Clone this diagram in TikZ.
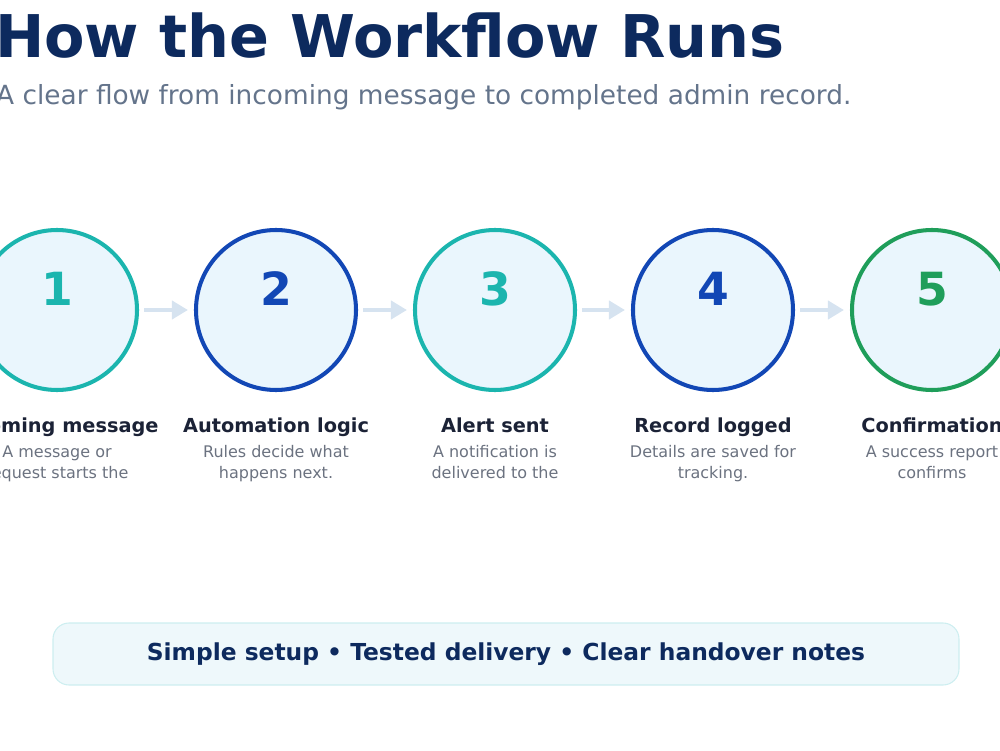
\documentclass[tikz,border=0pt]{standalone}
\usepackage{fontspec}
\setmainfont{DejaVu Sans}
\usetikzlibrary{arrows.meta}

\definecolor{navy}{HTML}{0D2A5E}
\definecolor{ink}{HTML}{1B2236}
\definecolor{muted}{HTML}{6B7280}
\definecolor{subgray}{HTML}{64748B}
\definecolor{tealc}{HTML}{1BB5AE}
\definecolor{bluec}{HTML}{1247B5}
\definecolor{greenc}{HTML}{1F9E5A}
\definecolor{disc}{HTML}{EAF6FD}
\definecolor{flow}{HTML}{D6E3F0}
\definecolor{barfill}{HTML}{EEF8FB}
\definecolor{barline}{HTML}{CDEEF0}

\begin{document}
\begin{tikzpicture}[
    >={Triangle[length=3.2mm,width=3.6mm]},
    stepdisc/.style={circle,draw=#1,fill=disc,line width=2.3pt,minimum size=3.2cm,inner sep=0pt},
    num/.style={font=\fontsize{26}{26}\selectfont\bfseries,text=#1,anchor=base},
    steptitle/.style={font=\fontsize{11}{13}\selectfont\bfseries,text=ink,anchor=base},
    stepdesc/.style={font=\fontsize{9.1}{12}\selectfont,text=muted,align=center,anchor=north,inner sep=0pt},
    arr/.style={->,draw=flow,line width=2.2pt,shorten <=0.1cm,shorten >=0.12cm}
]
\useasboundingbox (0,0) rectangle (20,15);

\node[font=\fontsize{33.5}{40}\selectfont\bfseries,text=navy,anchor=base west] (title) at (-0.22,13.84) {How the Workflow Runs};
\node[font=\fontsize{15}{18}\selectfont,text=subgray,anchor=base west] (subtitle) at (-0.2,12.9) {A clear flow from incoming message to completed admin record.};

% steps
\node[stepdisc=tealc]  (s1) at (1.14,8.8) {};
\node[stepdisc=bluec]  (s2) at (5.52,8.8) {};
\node[stepdisc=tealc]  (s3) at (9.9,8.8) {};
\node[stepdisc=bluec]  (s4) at (14.26,8.8) {};
\node[stepdisc=greenc] (s5) at (18.64,8.8) {};

\node[num=tealc]  (n1) at (1.14,8.9) {1};
\node[num=bluec]  (n2) at (5.52,8.9) {2};
\node[num=tealc]  (n3) at (9.9,8.9) {3};
\node[num=bluec]  (n4) at (14.26,8.9) {4};
\node[num=greenc] (n5) at (18.64,8.9) {5};

\node[steptitle] (t1) at (1.14,6.36) {Incoming message};
\node[steptitle] (t2) at (5.52,6.36) {Automation logic};
\node[steptitle] (t3) at (9.9,6.36) {Alert sent};
\node[steptitle] (t4) at (14.26,6.36) {Record logged};
\node[steptitle] (t5) at (18.64,6.36) {Confirmation};

\node[stepdesc] (d1) at (1.14,6.1) {A message or\\request starts the};
\node[stepdesc] (d2) at (5.52,6.1) {Rules decide what\\happens next.};
\node[stepdesc] (d3) at (9.9,6.1) {A notification is\\delivered to the};
\node[stepdesc] (d4) at (14.26,6.1) {Details are saved for\\tracking.};
\node[stepdesc] (d5) at (18.64,6.1) {A success report\\confirms};

\draw[arr] (s1) -- (s2);
\draw[arr] (s2) -- (s3);
\draw[arr] (s3) -- (s4);
\draw[arr] (s4) -- (s5);

% summary bar
\node[draw=barline,fill=barfill,line width=0.6pt,rounded corners=0.32cm,minimum width=18.12cm,minimum height=1.24cm,
      font=\fontsize{13.3}{15}\selectfont\bfseries,text=navy] (bar) at (10.12,1.92) {Simple setup • Tested delivery • Clear handover notes};
\end{tikzpicture}
\end{document}
